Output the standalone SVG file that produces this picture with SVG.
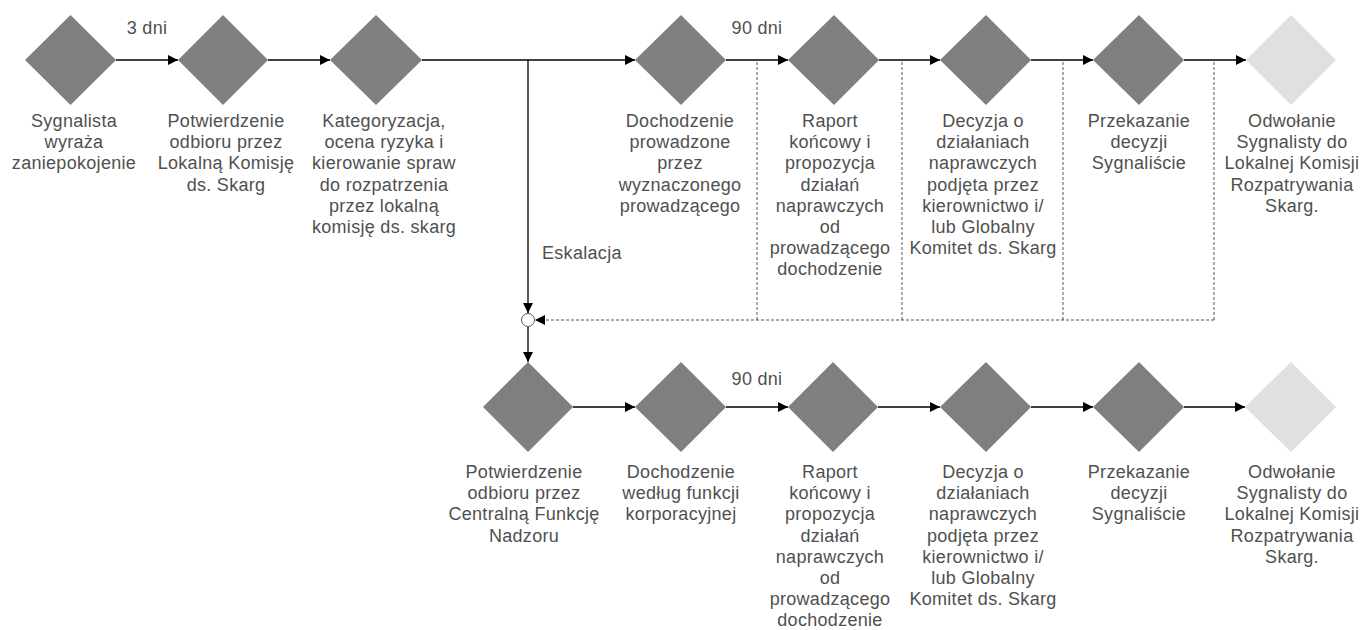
<svg xmlns="http://www.w3.org/2000/svg" width="1360" height="630" viewBox="0 0 1360 630">
<style>
.d{fill:#7f7f7f}
.l{fill:#e0e0e0}
.t{font-family:"Liberation Sans",Arial,sans-serif;font-size:18px;fill:#505050;text-anchor:middle;letter-spacing:0.3px}
.s{fill:none;stroke:#000;stroke-width:1.3}
.dt{fill:none;stroke:#555;stroke-width:1;stroke-dasharray:3 2}
</style>
<defs>
<marker id="a" viewBox="0 0 10 10" refX="10" refY="5" markerWidth="10" markerHeight="10" markerUnits="userSpaceOnUse" orient="auto"><path d="M0,0 L10,5 L0,10 Z" fill="#000"/></marker>
</defs>
<rect width="1360" height="630" fill="#fff"/>
<g id="connectors">
<path class="s" d="M116,60 H178" marker-end="url(#a)"/>
<path class="s" d="M268,60 H330" marker-end="url(#a)"/>
<path class="s" d="M422,60 H635" marker-end="url(#a)"/>
<path class="s" d="M726,60 H788" marker-end="url(#a)"/>
<path class="s" d="M879,60 H940" marker-end="url(#a)"/>
<path class="s" d="M1031,60 H1093" marker-end="url(#a)"/>
<path class="s" d="M1184,60 H1246" marker-end="url(#a)"/>
<path class="s" d="M528,60 V313" marker-end="url(#a)"/>
<path class="s" d="M528,327 V362" marker-end="url(#a)"/>
<path class="dt" d="M757,62 V320 M902,62 V320 M1063,62 V320 M1214,62 V320"/>
<path class="dt" d="M1214,320 H535" marker-end="url(#a)"/>
<circle cx="528" cy="320" r="6.5" fill="#fff" stroke="#555" stroke-width="1"/>
<path class="s" d="M573,407 H635" marker-end="url(#a)"/>
<path class="s" d="M726,407 H788" marker-end="url(#a)"/>
<path class="s" d="M878,407 H940" marker-end="url(#a)"/>
<path class="s" d="M1031,407 H1093" marker-end="url(#a)"/>
<path class="s" d="M1184,407 H1245" marker-end="url(#a)"/>
</g>
<g id="labels">
<text class="t" x="147" y="34">3 dni</text>
<text class="t" x="757" y="34">90 dni</text>
<text class="t" x="757" y="385">90 dni</text>
<text class="t" x="542" y="259" style="text-anchor:start">Eskalacja</text>
</g>
<g id="n1"><path class="d" d="M70.5,15 L116,60 L70.5,105 L25,60 Z"/>
<text class="t" x="74" y="127"><tspan x="74">Sygnalista</tspan><tspan x="74" dy="21.2">wyraża</tspan><tspan x="74" dy="21.2">zaniepokojenie</tspan></text></g>
<g id="n2"><path class="d" d="M223,15 L268,60 L223,105 L178,60 Z"/>
<text class="t" x="226" y="127"><tspan x="226">Potwierdzenie</tspan><tspan x="226" dy="21.2">odbioru przez</tspan><tspan x="226" dy="21.2">Lokalną Komisję</tspan><tspan x="226" dy="21.2">ds. Skarg</tspan></text></g>
<g id="n3"><path class="d" d="M376,15 L422,60 L376,105 L330,60 Z"/>
<text class="t" x="384" y="127"><tspan x="384">Kategoryzacja,</tspan><tspan x="384" dy="21.2">ocena ryzyka i</tspan><tspan x="384" dy="21.2">kierowanie spraw</tspan><tspan x="384" dy="21.2">do rozpatrzenia</tspan><tspan x="384" dy="21.2">przez lokalną</tspan><tspan x="384" dy="21.2">komisję ds. skarg</tspan></text></g>
<g id="n4"><path class="d" d="M681,15 L726,60 L681,105 L635,60 Z"/>
<text class="t" x="680" y="127"><tspan x="680">Dochodzenie</tspan><tspan x="680" dy="21.2">prowadzone</tspan><tspan x="680" dy="21.2">przez</tspan><tspan x="680" dy="21.2">wyznaczonego</tspan><tspan x="680" dy="21.2">prowadzącego</tspan></text></g>
<g id="n5"><path class="d" d="M834,15 L879,60 L834,105 L788,60 Z"/>
<text class="t" x="830" y="127"><tspan x="830">Raport</tspan><tspan x="830" dy="21.2">końcowy i</tspan><tspan x="830" dy="21.2">propozycja</tspan><tspan x="830" dy="21.2">działań</tspan><tspan x="830" dy="21.2">naprawczych</tspan><tspan x="830" dy="21.2">od</tspan><tspan x="830" dy="21.2">prowadzącego</tspan><tspan x="830" dy="21.2">dochodzenie</tspan></text></g>
<g id="n6"><path class="d" d="M986,15 L1031,60 L986,105 L940,60 Z"/>
<text class="t" x="983" y="127"><tspan x="983">Decyzja o</tspan><tspan x="983" dy="21.2">działaniach</tspan><tspan x="983" dy="21.2">naprawczych</tspan><tspan x="983" dy="21.2">podjęta przez</tspan><tspan x="983" dy="21.2">kierownictwo i/</tspan><tspan x="983" dy="21.2">lub Globalny</tspan><tspan x="983" dy="21.2">Komitet ds. Skarg</tspan></text></g>
<g id="n7"><path class="d" d="M1139,15 L1184,60 L1139,105 L1093,60 Z"/>
<text class="t" x="1139" y="127"><tspan x="1139">Przekazanie</tspan><tspan x="1139" dy="21.2">decyzji</tspan><tspan x="1139" dy="21.2">Sygnaliście</tspan></text></g>
<g id="n8"><path class="l" d="M1291,15 L1336,60 L1291,105 L1246,60 Z"/>
<text class="t" x="1292" y="127"><tspan x="1292">Odwołanie</tspan><tspan x="1292" dy="21.2">Sygnalisty do</tspan><tspan x="1292" dy="21.2">Lokalnej Komisji</tspan><tspan x="1292" dy="21.2">Rozpatrywania</tspan><tspan x="1292" dy="21.2">Skarg.</tspan></text></g>
<g id="b1"><path class="d" d="M528,362 L573,407 L528,452 L483,407 Z"/>
<text class="t" x="524" y="478"><tspan x="524">Potwierdzenie</tspan><tspan x="524" dy="21.2">odbioru przez</tspan><tspan x="524" dy="21.2">Centralną Funkcję</tspan><tspan x="524" dy="21.2">Nadzoru</tspan></text></g>
<g id="b2"><path class="d" d="M681,362 L726,407 L681,452 L635,407 Z"/>
<text class="t" x="681" y="478"><tspan x="681">Dochodzenie</tspan><tspan x="681" dy="21.2">według funkcji</tspan><tspan x="681" dy="21.2">korporacyjnej</tspan></text></g>
<g id="b3"><path class="d" d="M833,362 L878,407 L833,452 L788,407 Z"/>
<text class="t" x="830" y="478"><tspan x="830">Raport</tspan><tspan x="830" dy="21.2">końcowy i</tspan><tspan x="830" dy="21.2">propozycja</tspan><tspan x="830" dy="21.2">działań</tspan><tspan x="830" dy="21.2">naprawczych</tspan><tspan x="830" dy="21.2">od</tspan><tspan x="830" dy="21.2">prowadzącego</tspan><tspan x="830" dy="21.2">dochodzenie</tspan></text></g>
<g id="b4"><path class="d" d="M986,362 L1031,407 L986,452 L940,407 Z"/>
<text class="t" x="983" y="478"><tspan x="983">Decyzja o</tspan><tspan x="983" dy="21.2">działaniach</tspan><tspan x="983" dy="21.2">naprawczych</tspan><tspan x="983" dy="21.2">podjęta przez</tspan><tspan x="983" dy="21.2">kierownictwo i/</tspan><tspan x="983" dy="21.2">lub Globalny</tspan><tspan x="983" dy="21.2">Komitet ds. Skarg</tspan></text></g>
<g id="b5"><path class="d" d="M1139,362 L1184,407 L1139,452 L1093,407 Z"/>
<text class="t" x="1139" y="478"><tspan x="1139">Przekazanie</tspan><tspan x="1139" dy="21.2">decyzji</tspan><tspan x="1139" dy="21.2">Sygnaliście</tspan></text></g>
<g id="b6"><path class="l" d="M1291,362 L1336,407 L1291,452 L1245,407 Z"/>
<text class="t" x="1292" y="478"><tspan x="1292">Odwołanie</tspan><tspan x="1292" dy="21.2">Sygnalisty do</tspan><tspan x="1292" dy="21.2">Lokalnej Komisji</tspan><tspan x="1292" dy="21.2">Rozpatrywania</tspan><tspan x="1292" dy="21.2">Skarg.</tspan></text></g>
</svg>
